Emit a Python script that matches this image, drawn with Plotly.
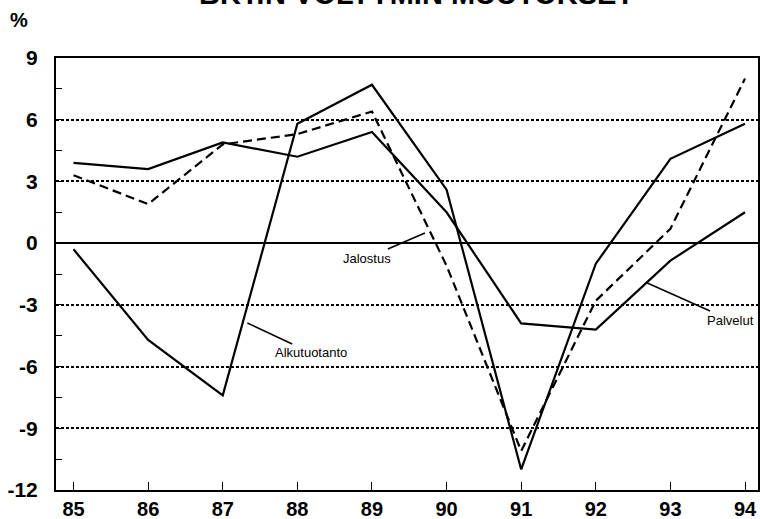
import plotly.graph_objects as go

years = [85, 86, 87, 88, 89, 90, 91, 92, 93, 94]
year_labels = ["85", "86", "87", "88", "89", "90", "91", "92", "93", "94"]
alkutuotanto = [-0.3, -4.7, -7.4, 5.8, 7.7, 2.6, -11.0, -1.0, 4.1, 5.8]
jalostus = [3.3, 1.9, 4.8, 5.3, 6.4, -1.1, -10.1, -2.8, 0.7, 8.0]
palvelut = [3.9, 3.6, 4.9, 4.2, 5.4, 1.5, -3.9, -4.2, -0.85, 1.5]
y_ticks = [9, 6, 3, 0, -3, -6, -9, -12]

title_text = "BKT:N VOLYYMIN MUUTOKSET"
FONT = "Liberation Sans"

fig = go.Figure()
line_style = dict(color="black", width=2.2)
fig.add_trace(go.Scatter(x=years, y=palvelut, mode="lines", name="Palvelut",
                         line=line_style))
fig.add_trace(go.Scatter(x=years, y=alkutuotanto, mode="lines", name="Alkutuotanto",
                         line=line_style))
fig.add_trace(go.Scatter(x=years, y=jalostus, mode="lines", name="Jalostus",
                         line=dict(color="black", width=2.2, dash="9px,5px")))

fig.update_layout(
    width=760, height=519,
    margin=dict(l=56, r=2, t=58, b=29, autoexpand=False),
    paper_bgcolor="white", plot_bgcolor="white",
    showlegend=False,
    font=dict(family=FONT, color="black"),
)

fig.update_xaxes(
    automargin=False,
    range=[84.765, 94.174],
    tickvals=years, ticktext=year_labels,
    ticks="inside", ticklen=8, tickwidth=1, tickcolor="black",
    tickfont=dict(family=FONT, size=20, weight="bold", color="black"),
    ticklabelstandoff=0,
    showgrid=False, zeroline=False,
    showline=True, linecolor="black", linewidth=2, mirror=True,
)
fig.update_yaxes(
    automargin=False,
    range=[-12, 9],
    tickvals=y_ticks, ticktext=[str(v) for v in y_ticks],
    ticks="inside", ticklen=6, tickwidth=1, tickcolor="black",
    tickfont=dict(family=FONT, size=21, weight="bold", color="black"),
    ticklabelstandoff=12,
    showgrid=True, gridcolor="black", gridwidth=1.5, griddash="3px,2px",
    zeroline=True, zerolinecolor="black", zerolinewidth=2,
    showline=True, linecolor="black", linewidth=2, mirror=True,
    minor=dict(dtick=1.5, tick0=0, ticks="inside", ticklen=6, tickcolor="black",
               showgrid=False),
)

# title (cropped at top in the original)
fig.add_annotation(text=title_text, xref="paper", yref="paper", x=0.514, y=1.147,
                   xanchor="center", yanchor="middle", showarrow=False,
                   font=dict(family=FONT, size=29, weight="bold", color="black"))
# % unit label
fig.add_annotation(text="%", xref="paper", yref="paper", x=-0.052, y=1.088,
                   xanchor="center", yanchor="middle", showarrow=False,
                   font=dict(family=FONT, size=20, weight="bold", color="black"))

# series labels with pointer lines
labels = [
    ("Jalostus", 89.71, 0.49, -58, 25),
    ("Alkutuotanto", 87.33, -3.88, 64, 30),
    ("Palvelut", 92.69, -1.94, 83, 37),
]
for txt, lx, ly, ax, ay in labels:
    fig.add_annotation(text=txt, x=lx, y=ly, ax=ax, ay=ay, showarrow=True,
                       arrowhead=0, arrowwidth=1.5, arrowcolor="black",
                       font=dict(family=FONT, size=13, color="black"))

fig.write_html("out.html",
               config={"displayModeBar": False},
               post_script="document.body.style.margin='0';document.body.style.overflow='hidden';")
